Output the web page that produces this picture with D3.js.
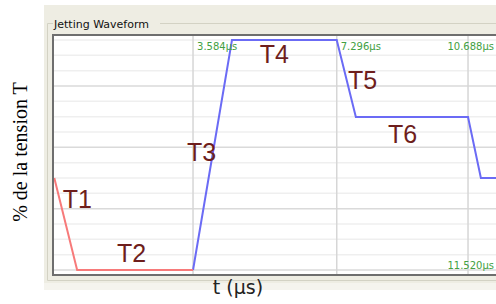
<!DOCTYPE html>
<html>
<head>
<meta charset="utf-8">
<script src="https://cdn.jsdelivr.net/npm/d3@7"></script>
<style>
  body { margin: 0; background: #fff; }
  svg { display: block; }
</style>
</head>
<body>
<svg id="chart" width="496" height="304"></svg>
<script>
const width = 496;
const height = 304;

// waveform, time in µs and level in % of T
const red_t = [0, 0.59, 3.584];
const red_v = [40, 0, 0];
const blue_t = [3.584, 4.59, 7.296, 7.79, 10.688, 11.02, 12];
const blue_v = [0, 100, 100, 66.5, 66.5, 40, 40];

// cursor markers
const marker_t = [3.584, 7.296, 10.688];
const marker_labels = ["3.584µs", "7.296µs", "10.688µs"];
const end_t = 11.52;
const end_label = "11.520µs";

// segment names, placed in data units
const segment_names = ["T1", "T2", "T3", "T4", "T5", "T6"];
const segment_t = [0.22, 1.62, 3.43, 5.31, 7.59, 8.62];
const segment_v = [27, 3.5, 47.4, 90, 78.7, 55.2];

// horizontal grid steps (15 steps of the full range)
const grid_steps = d3.range(0, 16);

const x = d3.scaleLinear().domain([0, 12]).range([54.3, 54.3 + 38.71 * 12]);
const y = d3.scaleLinear().domain([0, 100]).range([270, 40]);

const svg = d3.select("#chart");

// group box background
svg.append("rect")
  .attr("x", 44).attr("y", 5)
  .attr("width", width - 44).attr("height", 278)
  .attr("fill", "#eeede3");
svg.append("rect")
  .attr("x", 44).attr("y", 283)
  .attr("width", width - 44).attr("height", 7)
  .attr("fill", "#f5f4ee");

// group box frame line with title gap
svg.append("path")
  .attr("d", "M160,23.5H496 M53,23.5H47.5V280.5H496")
  .attr("fill", "none")
  .attr("stroke", "#d3d2c4");

svg.append("text")
  .attr("x", 54).attr("y", 28)
  .attr("font-family", "DejaVu Sans")
  .attr("font-size", 11)
  .attr("fill", "#111")
  .text("Jetting Waveform");

// plot area
const plot_top = 35;
const plot_bottom = 275;
svg.append("rect")
  .attr("x", 53).attr("y", plot_top)
  .attr("width", 480).attr("height", plot_bottom - plot_top)
  .attr("fill", "#fff");

const grid = svg.append("g");
grid.selectAll("line.h")
  .data(grid_steps)
  .join("line")
  .attr("class", "h")
  .attr("x1", 54).attr("x2", width)
  .attr("y1", (k) => y((k * 100) / 15))
  .attr("y2", (k) => y((k * 100) / 15))
  .attr("stroke", (k) => (k % 4 === 0 ? "#dadada" : "#efefef"))
  .attr("stroke-width", 1.5);

grid.selectAll("line.v")
  .data(marker_t)
  .join("line")
  .attr("class", "v")
  .attr("x1", (d) => x(d)).attr("x2", (d) => x(d))
  .attr("y1", plot_top).attr("y2", plot_bottom)
  .attr("stroke", "#d6d6d6")
  .attr("stroke-width", 1.5);

const line = d3.line()
  .x((d) => x(d[0]))
  .y((d) => y(d[1]));

svg.append("path")
  .datum(d3.zip(blue_t, blue_v))
  .attr("fill", "none")
  .attr("stroke", "#6b6bf5")
  .attr("stroke-width", 2)
  .attr("d", line);

svg.append("path")
  .datum(d3.zip(red_t, red_v))
  .attr("fill", "none")
  .attr("stroke", "#f77a7a")
  .attr("stroke-width", 2)
  .attr("d", line);

// plot frame
svg.append("path")
  .attr("d", `M${width},${plot_top}H53V${plot_bottom}H${width}`)
  .attr("fill", "none")
  .attr("stroke", "#6e6e6e")
  .attr("stroke-width", 2);

// cursor labels, pushed back inside when they overflow
function place_label(t, label, baseline) {
  const txt = svg.append("text")
    .attr("y", baseline)
    .attr("font-family", "DejaVu Sans")
    .attr("font-size", 10)
    .attr("fill", "#42a042")
    .text(label);
  const len = txt.node().getComputedTextLength();
  let px = x(t) + 4;
  if (px + len > width - 2) {
    px = width - 2 - len;
  }
  txt.attr("x", px);
}

marker_t.forEach((t, i) => place_label(t, marker_labels[i], 50));
place_label(end_t, end_label, 269);

svg.selectAll("text.seg")
  .data(segment_names)
  .join("text")
  .attr("class", "seg")
  .attr("x", (d, i) => x(segment_t[i]))
  .attr("y", (d, i) => y(segment_v[i]))
  .attr("font-family", "Liberation Sans")
  .attr("font-size", 25)
  .attr("fill", "#6e1e1c")
  .text((d) => d);

// axis titles
svg.append("text")
  .attr("transform", "translate(27,152) rotate(-90)")
  .attr("text-anchor", "middle")
  .attr("font-family", "Liberation Serif")
  .attr("font-size", 20)
  .attr("fill", "#000")
  .text("% de la tension T");

svg.append("text")
  .attr("x", 238).attr("y", 294)
  .attr("text-anchor", "middle")
  .attr("font-family", "DejaVu Sans")
  .attr("font-size", 19)
  .attr("fill", "#222")
  .text("t (µs)");
</script>
</body>
</html>
